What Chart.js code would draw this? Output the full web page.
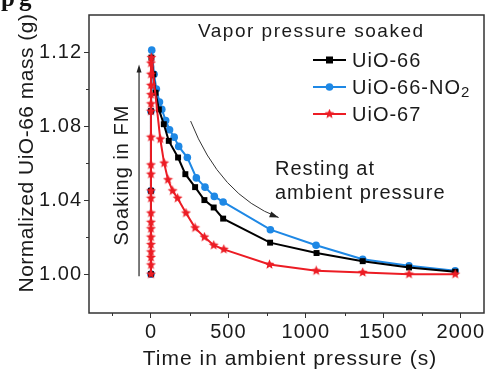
<!DOCTYPE html>
<html>
<head>
<meta charset="utf-8">
<script src="https://cdn.jsdelivr.net/npm/chart.js@4.4.1/dist/chart.umd.min.js"></script>
<style>
  html, body { margin: 0; padding: 0; background: #fff; }
  #wrap { width: 490px; height: 370px; }
</style>
</head>
<body>
<div id="wrap"><canvas id="massChart" width="490" height="370"></canvas></div>
<script>
// ===== data: time in ambient pressure (s) vs normalized mass (g) =====
const timeUiO66 = [0, 0, 0, 3, 15, 30, 51, 83, 115, 175, 222, 285, 345, 405, 466, 769, 1069, 1367, 1666, 1964];
const massUiO66 = [1.000, 1.045, 1.088, 1.117, 1.108, 1.098, 1.089, 1.081, 1.072, 1.063, 1.054, 1.047, 1.040, 1.036, 1.030, 1.017, 1.0114, 1.007, 1.0036, 1.0013];

const timeUiO66NO2 = [0, 0, 0, 5, 20, 35, 55, 70, 95, 120, 150, 179, 235, 293, 349, 409, 466, 771, 1066, 1367, 1666, 1964];
const massUiO66NO2 = [1.000, 1.045, 1.088, 1.121, 1.108, 1.100, 1.093, 1.089, 1.083, 1.078, 1.074, 1.069, 1.063, 1.052, 1.047, 1.042, 1.039, 1.024, 1.0156, 1.008, 1.0045, 1.0018];

const timeUiO67 = [0, 0, 0, 0, 0, 0, 0, 0, 0, 0, 0, 0, 0, 0, 0, 0, 0, 0, 0, 0,
  3, 60, 85, 110, 140, 172, 226, 285, 345, 405, 470, 765, 1067, 1367, 1666, 1964];
const massUiO67 = [1.000, 1.005, 1.009, 1.012, 1.016, 1.020, 1.0245, 1.028, 1.033, 1.041, 1.045, 1.054, 1.059, 1.074, 1.088, 1.092, 1.097, 1.102, 1.108, 1.114,
  1.117, 1.073, 1.060, 1.051, 1.045, 1.041, 1.033, 1.025, 1.020, 1.0156, 1.0134, 1.0052, 1.0018, 1.0009, 1.000, 1.000];

const seriesNames = ['UiO-66', 'UiO-66-NO2', 'UiO-67'];
const xTickValues = [0, 500, 1000, 1500, 2000];
const xMinorTicks = [-250, 250, 750, 1250, 1750];
const yTickValues = [1.00, 1.04, 1.08, 1.12];
const yMinorTicks = [1.02, 1.06, 1.10];

const BLACK = '#000000';
const BLUE = '#1e88e5';
const RED = '#ec1c24';
const AXIS = '#333333';
const TEXT = '#1a1a1a';
const FONT = 'Arial, "Liberation Sans", sans-serif';

const toPoints = (xs, ys) => xs.map((x, i) => ({ x: x, y: ys[i] }));

// filled five-point star used as a point style
function makeStar(size, color) {
  const c = document.createElement('canvas');
  c.width = size; c.height = size;
  const g = c.getContext('2d');
  const cx = size / 2, cy = size / 2, ro = size / 2 - 0.3, ri = ro * 0.45;
  g.beginPath();
  for (let i = 0; i < 10; i++) {
    const r = i % 2 === 0 ? ro : ri;
    const a = -Math.PI / 2 + i * Math.PI / 5;
    g.lineTo(cx + r * Math.cos(a), cy + r * Math.sin(a));
  }
  g.closePath();
  g.fillStyle = color;
  g.fill();
  return c;
}
const starImg = makeStar(11, RED);

// ===== frame, ticks, titles and annotations =====
const decorPlugin = {
  id: 'decor',
  beforeDraw(chart) {
    chart.ctx.letterSpacing = '1px';
  },
  afterDraw(chart) {
    const { ctx, chartArea: a, scales } = chart;
    const xs = scales.x, ys = scales.y;
    ctx.save();
    ctx.strokeStyle = AXIS;
    ctx.lineWidth = 1.5;
    ctx.strokeRect(a.left, a.top, a.right - a.left, a.bottom - a.top);

    // minor ticks
    ctx.lineWidth = 1;
    ctx.beginPath();
    xMinorTicks.forEach(v => {
      const px = Math.round(xs.getPixelForValue(v)) + 0.5;
      ctx.moveTo(px, a.bottom); ctx.lineTo(px, a.bottom + 3);
    });
    yMinorTicks.forEach(v => {
      const py = Math.round(ys.getPixelForValue(v)) + 0.5;
      ctx.moveTo(a.left, py); ctx.lineTo(a.left - 3, py);
    });
    ctx.stroke();

    // cut-off heading above the panel
    ctx.fillStyle = '#111';
    ctx.letterSpacing = '0px';
    ctx.font = 'bold 25px "Liberation Serif", "Times New Roman", serif';
    ctx.textAlign = 'left';
    ctx.fillText('p', 1, 6);
    ctx.fillText('g', 19, 6);

    ctx.fillStyle = TEXT;
    ctx.letterSpacing = '0.5px';
    ctx.font = '21px ' + FONT;
    ctx.textAlign = 'center';
    ctx.textBaseline = 'alphabetic';

    // y axis title
    ctx.save();
    ctx.translate(33, 153);
    ctx.rotate(-Math.PI / 2);
    ctx.fillText('Normalized UiO-66 mass (g)', 0, 0);
    ctx.restore();

    // x axis title
    ctx.letterSpacing = '1px';
    ctx.fillText('Time in ambient pressure (s)', 290, 365);

    // soaking arrow and label
    const ax = xs.getPixelForValue(-77);
    const ay0 = ys.getPixelForValue(0.9989);
    const ay1 = ys.getPixelForValue(1.1133);
    ctx.strokeStyle = '#222';
    ctx.lineWidth = 1.2;
    ctx.beginPath();
    ctx.moveTo(ax, ay0); ctx.lineTo(ax, ay1 + 6);
    ctx.stroke();
    ctx.fillStyle = '#222';
    ctx.beginPath();
    ctx.moveTo(ax, ay1); ctx.lineTo(ax - 2.5, ay1 + 8); ctx.lineTo(ax + 2.5, ay1 + 8);
    ctx.closePath(); ctx.fill();

    ctx.fillStyle = TEXT;
    ctx.font = '20px ' + FONT;
    ctx.save();
    ctx.translate(128, 175);
    ctx.rotate(-Math.PI / 2);
    ctx.fillText('Soaking in FM', 0, 0);
    ctx.restore();

    // resting arrow (curved)
    const p0 = [xs.getPixelForValue(256), ys.getPixelForValue(1.0827)];
    const pc = [xs.getPixelForValue(447), ys.getPixelForValue(1.0424)];
    const p2 = [xs.getPixelForValue(824), ys.getPixelForValue(1.0306)];
    ctx.strokeStyle = '#333';
    ctx.lineWidth = 1;
    ctx.beginPath();
    ctx.moveTo(p0[0], p0[1]);
    ctx.quadraticCurveTo(pc[0], pc[1], p2[0], p2[1]);
    ctx.stroke();
    const ang = Math.atan2(p2[1] - pc[1], p2[0] - pc[0]);
    ctx.fillStyle = '#222';
    ctx.beginPath();
    ctx.moveTo(p2[0], p2[1]);
    ctx.lineTo(p2[0] - 9 * Math.cos(ang) + 3 * Math.sin(ang), p2[1] - 9 * Math.sin(ang) - 3 * Math.cos(ang));
    ctx.lineTo(p2[0] - 9 * Math.cos(ang) - 3 * Math.sin(ang), p2[1] - 9 * Math.sin(ang) + 3 * Math.cos(ang));
    ctx.closePath(); ctx.fill();

    ctx.fillStyle = TEXT;
    ctx.textAlign = 'left';
    ctx.fillText('Resting at', 275, 175);
    ctx.fillText('ambient pressure', 275, 199);

    // legend
    ctx.font = '19px ' + FONT;
    ctx.letterSpacing = '1.5px';
    ctx.fillText('Vapor pressure soaked', 198, 37);

    ctx.font = '20px ' + FONT;
    ctx.letterSpacing = '1px';
    const rows = [
      { y: 60, color: BLACK, mark: 'square', label: seriesNames[0] },
      { y: 87, color: BLUE, mark: 'circle', label: seriesNames[1] },
      { y: 114, color: RED, mark: 'star', label: seriesNames[2] }
    ];
    rows.forEach(r => {
      ctx.strokeStyle = r.color;
      ctx.lineWidth = 2;
      ctx.beginPath();
      ctx.moveTo(313, r.y); ctx.lineTo(346, r.y);
      ctx.stroke();
      ctx.fillStyle = r.color;
      if (r.mark === 'square') {
        ctx.fillRect(326, r.y - 3.5, 7, 7);
      } else if (r.mark === 'circle') {
        ctx.beginPath(); ctx.arc(329.5, r.y, 3.8, 0, Math.PI * 2); ctx.fill();
      } else {
        ctx.drawImage(starImg, 324, r.y - 5.5);
      }
      ctx.fillStyle = TEXT;
      if (r.label.endsWith('NO2')) {
        const base = r.label.slice(0, -1);
        ctx.fillText(base, 352, r.y + 7);
        const w = ctx.measureText(base).width;
        ctx.font = '15px ' + FONT;
        ctx.fillText('2', 352 + w, r.y + 10);
        ctx.font = '20px ' + FONT;
      } else {
        ctx.fillText(r.label, 352, r.y + 7);
      }
    });
    ctx.restore();
  }
};

const lineDefaults = {
  borderWidth: 2,
  tension: 0,
  fill: false
};

new Chart(document.getElementById('massChart'), {
  type: 'line',
  data: {
    datasets: [
      {
        ...lineDefaults,
        label: seriesNames[2],
        data: toPoints(timeUiO67, massUiO67),
        borderColor: RED,
        backgroundColor: RED,
        pointStyle: starImg,
        order: 0
      },
      {
        ...lineDefaults,
        label: seriesNames[0],
        data: toPoints(timeUiO66, massUiO66),
        borderColor: BLACK,
        backgroundColor: BLACK,
        pointStyle: 'rect',
        pointRadius: 4.2,
        pointBorderWidth: 0,
        order: 1
      },
      {
        ...lineDefaults,
        label: seriesNames[1],
        data: toPoints(timeUiO66NO2, massUiO66NO2),
        borderColor: BLUE,
        backgroundColor: BLUE,
        pointStyle: 'circle',
        pointRadius: 3.8,
        pointBorderWidth: 0,
        order: 2
      }
    ]
  },
  options: {
    responsive: false,
    animation: false,
    layout: { padding: { top: 15, right: 2, left: 0, bottom: 0 } },
    plugins: {
      legend: { display: false },
      tooltip: { enabled: false }
    },
    scales: {
      x: {
        type: 'linear',
        min: -400,
        max: 2150,
        afterBuildTicks: scale => { scale.ticks = xTickValues.map(v => ({ value: v })); },
        afterFit: scale => { scale.height = 57; },
        border: { display: false },
        grid: { drawOnChartArea: false, drawTicks: true, tickLength: 5, color: AXIS, lineWidth: 1 },
        ticks: {
          color: TEXT,
          padding: 2,
          maxRotation: 0,
          font: { family: FONT, size: 20 },
          callback: v => String(v)
        }
      },
      y: {
        type: 'linear',
        min: 0.979,
        max: 1.14,
        afterBuildTicks: scale => { scale.ticks = yTickValues.map(v => ({ value: v })); },
        afterFit: scale => { scale.width = 89; },
        border: { display: false },
        grid: { drawOnChartArea: false, drawTicks: true, tickLength: 5, color: AXIS, lineWidth: 1 },
        ticks: {
          color: TEXT,
          padding: 2,
          font: { family: FONT, size: 20 },
          callback: v => v.toFixed(2)
        }
      }
    }
  },
  plugins: [decorPlugin]
});
</script>
</body>
</html>
